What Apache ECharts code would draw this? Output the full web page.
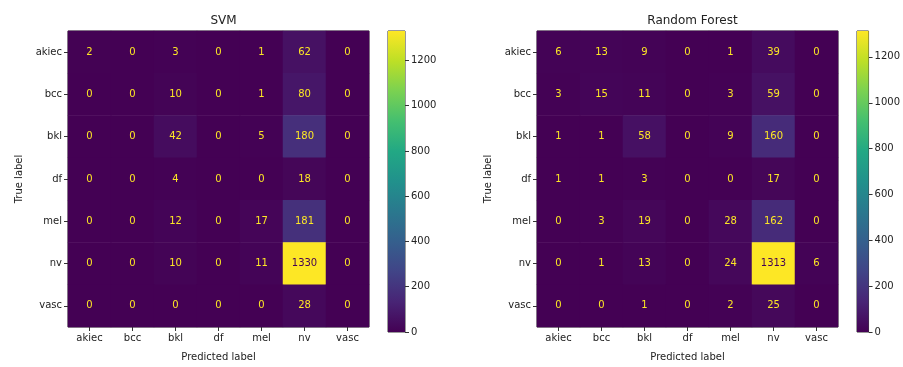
<!DOCTYPE html>
<html>
<head>
<meta charset="utf-8">
<script src="https://cdn.jsdelivr.net/npm/echarts@6/dist/echarts.min.js"></script>
<style>
html,body{margin:0;padding:0;background:#fff;}
#chart{width:903px;height:367px;}
</style>
</head>
<body>
<div id="chart"></div>
<script>
// ---- data ----
const labels = ['akiec', 'bcc', 'bkl', 'df', 'mel', 'nv', 'vasc'];
const titles = ['SVM', 'Random Forest'];
// rows = true label, columns = predicted label
const svmMatrix = [
  [2, 0, 3, 0, 1, 62, 0],
  [0, 0, 10, 0, 1, 80, 0],
  [0, 0, 42, 0, 5, 180, 0],
  [0, 0, 4, 0, 0, 18, 0],
  [0, 0, 12, 0, 17, 181, 0],
  [0, 0, 10, 0, 11, 1330, 0],
  [0, 0, 0, 0, 0, 28, 0]
];
const rfMatrix = [
  [6, 13, 9, 0, 1, 39, 0],
  [3, 15, 11, 0, 3, 59, 0],
  [1, 1, 58, 0, 9, 160, 0],
  [1, 1, 3, 0, 0, 17, 0],
  [0, 3, 19, 0, 28, 162, 0],
  [0, 1, 13, 0, 24, 1313, 6],
  [0, 0, 1, 0, 2, 25, 0]
];
const colorbarTicks = [0, 200, 400, 600, 800, 1000, 1200];

// ---- styling ----
const viridis = ['#440154', '#482475', '#414487', '#355f8d', '#2a788e', '#21918c', '#22a884', '#44bf70', '#7ad151', '#bddf26', '#fde725'];
const FONT = 'DejaVu Sans';
const TXT = '#222';

const chart = echarts.init(document.getElementById('chart'));

const panels = [
  { m: svmMatrix, left: 68, cbLeft: 388 },
  { m: rfMatrix, left: 537, cbLeft: 857 }
];
const TOP = 31, SIZE = 301, CBW = 17;

const grid = [], xAxis = [], yAxis = [], series = [], visualMap = [], title = [];

panels.forEach((p, i) => {
  const flat = p.m.flat();
  const vmax = Math.max(...flat), vmin = Math.min(...flat);
  const thresh = (vmax + vmin) / 2;
  const data = [];
  p.m.forEach((row, r) => row.forEach((v, c) => {
    data.push({ value: [c, r, v], label: { color: v > thresh ? viridis[0] : viridis[viridis.length - 1] } });
  }));

  const gi = grid.length;
  grid.push({ left: p.left, top: TOP, width: SIZE, height: SIZE, show: true, borderColor: '#000', borderWidth: 0.8, backgroundColor: 'transparent' });
  xAxis.push({
    type: 'category', data: labels, gridIndex: gi, position: 'bottom',
    name: 'Predicted label', nameLocation: 'middle', nameGap: 25,
    nameTextStyle: { fontFamily: FONT, fontSize: 10, color: TXT },
    axisLine: { show: false }, axisTick: { show: true, alignWithLabel: true, length: 4, lineStyle: { color: '#333' } },
    axisLabel: { fontFamily: FONT, fontSize: 10, color: TXT, margin: 6 },
    splitLine: { show: false }, splitArea: { show: false }
  });
  yAxis.push({
    type: 'category', data: labels, gridIndex: gi, inverse: true,
    name: 'True label', nameLocation: 'middle', nameGap: 44, nameRotate: 90,
    nameTextStyle: { fontFamily: FONT, fontSize: 10, color: TXT },
    axisLine: { show: false }, axisTick: { show: true, alignWithLabel: true, length: 4, lineStyle: { color: '#333' } },
    axisLabel: { fontFamily: FONT, fontSize: 10, color: TXT, margin: 6 },
    splitLine: { show: false }, splitArea: { show: false }
  });
  const si = series.length;
  series.push({
    type: 'heatmap', xAxisIndex: gi, yAxisIndex: gi, data: data,
    label: { show: true, fontFamily: FONT, fontSize: 10, formatter: (d) => d.value[2] },
    itemStyle: { borderWidth: 0 },
    emphasis: { disabled: true }
  });
  visualMap.push({ type: 'continuous', show: false, min: 0, max: vmax, seriesIndex: si, inRange: { color: viridis } });

  const ci = grid.length;
  grid.push({ left: p.cbLeft, top: TOP, width: CBW, height: SIZE, show: true, borderColor: '#000', borderWidth: 0.8, backgroundColor: 'transparent' });
  xAxis.push({ type: 'category', data: [''], gridIndex: ci, show: false });
  yAxis.push({
    type: 'value', gridIndex: ci, position: 'right', min: 0, max: vmax,
    axisLine: { show: false },
    axisTick: { show: true, length: 4, lineStyle: { color: '#333' }, customValues: colorbarTicks },
    axisLabel: { fontFamily: FONT, fontSize: 10, color: TXT, margin: 6, customValues: colorbarTicks, formatter: (v) => String(v) },
    splitLine: { show: false }
  });
  const stops = viridis.map((c, k) => ({ offset: k / (viridis.length - 1), color: c }));
  series.push({
    type: 'bar', xAxisIndex: ci, yAxisIndex: ci, data: [vmax], barWidth: '100%',
    itemStyle: { color: new echarts.graphic.LinearGradient(0, 1, 0, 0, stops) },
    silent: true
  });

  title.push({ text: titles[i], left: p.left + SIZE / 2, top: 10, textAlign: 'center',
    textStyle: { fontFamily: FONT, fontSize: 12, fontWeight: 'normal', color: TXT } });
});

chart.setOption({
  animation: false,
  backgroundColor: '#fff',
  title, grid, xAxis, yAxis, series, visualMap
});
</script>
</body>
</html>
